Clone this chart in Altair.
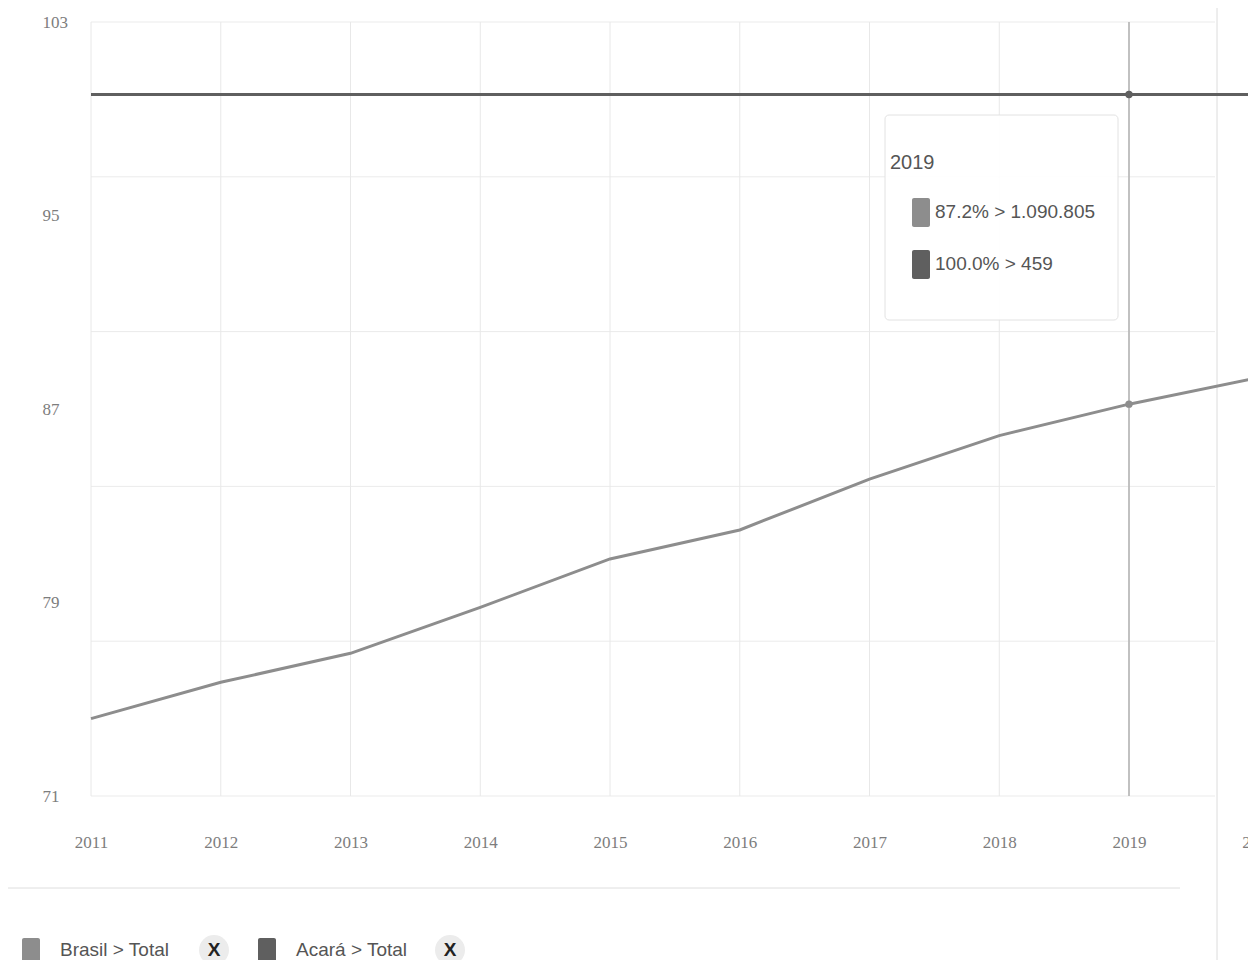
import altair as alt
import pandas as pd

# ---- data ----
years = [2011, 2012, 2013, 2014, 2015, 2016, 2017, 2018, 2019, 2020]
brasil_total = [74.2, 75.7, 76.9, 78.8, 80.8, 82.0, 84.1, 85.9, 87.2, 88.3]
acara_total = [100.0, 100.0, 100.0, 100.0, 100.0, 100.0, 100.0, 100.0, 100.0, 100.0]
series_names = ["Brasil > Total", "Acará > Total"]
series_colors = ["#8d8d8d", "#5f5f5f"]
y_ticks = [71, 79, 87, 95, 103]
grid_levels = [71, 77.4, 83.8, 90.2, 96.6, 103]
hover_year = 2019
hover_pct = [87.2, 100.0]
hover_count = ["1.090.805", "459"]

# ---- layout ----
W, H = 1240, 952
SANS = "Liberation Sans, Arial, sans-serif"
SERIF = "Liberation Serif, Times New Roman, serif"

xs = alt.Scale(domain=[years[0], years[-1]], range=[83, 83 + 129.75 * (len(years) - 1)], nice=False, zero=False)
ys = alt.Scale(domain=[y_ticks[0], y_ticks[-1]], range=[788, 14], nice=False, zero=False)

x_axis = alt.Axis(values=years, format="d", orient="bottom", offset=-126, domain=False, ticks=False,
                  tickSize=0, grid=False, labelPadding=0, labelFont=SERIF, labelFontSize=17,
                  labelColor="#7d7d7d", title=None, labelFlush=False, labelOverlap=False)
y_axis = alt.Axis(values=y_ticks, orient="left", offset=-34, domain=False, ticks=False, tickSize=0,
                  grid=False, labelPadding=0, labelAlign="left", labelFont=SERIF, labelFontSize=17,
                  labelColor="#7d7d7d", title=None, labelOverlap=False)

X = lambda f="year": alt.X(f"{f}:Q", scale=xs, axis=x_axis)
Y = lambda f="value": alt.Y(f"{f}:Q", scale=ys, axis=y_axis)

rows = []
for i, yr in enumerate(years):
    rows.append({"year": yr, "value": brasil_total[i], "series": series_names[0]})
    rows.append({"year": yr, "value": acara_total[i], "series": series_names[1]})
df = pd.DataFrame(rows)

one = pd.DataFrame({"k": [0]})
color_scale = alt.Scale(domain=series_names, range=series_colors)

hgrid = alt.Chart(pd.DataFrame({"value": grid_levels})).mark_rule(color="#ebebeb", strokeWidth=1).encode(
    x=alt.value(83), x2=alt.value(1207), y=Y())

vgrid = alt.Chart(pd.DataFrame({"year": years, "value": [y_ticks[0]] * len(years),
                                "value2": [y_ticks[-1]] * len(years)})).mark_rule(
    color="#e8e8e8", strokeWidth=1).encode(x=X(), y=Y(), y2="value2:Q")

edge = alt.Chart(one).mark_rule(color="#dcdcdc", strokeWidth=1).encode(
    x=alt.value(1209), y=alt.value(0), y2=alt.value(H))

sep = alt.Chart(one).mark_rule(color="#dedede", strokeWidth=1).encode(
    x=alt.value(0), x2=alt.value(1172), y=alt.value(880))

cross = alt.Chart(pd.DataFrame({"year": [hover_year], "value": [y_ticks[0]],
                                "value2": [y_ticks[-1]]})).mark_rule(
    color="#b0b0b0", strokeWidth=1.5).encode(x=X(), y=Y(), y2="value2:Q")

lines = alt.Chart(df).mark_line(strokeWidth=3).encode(
    x=X(), y=Y(), color=alt.Color("series:N", scale=color_scale, legend=None))

pts = alt.Chart(df[df["year"] == hover_year]).mark_point(filled=True, size=55, opacity=1).encode(
    x=X(), y=Y(), color=alt.Color("series:N", scale=color_scale, legend=None))

box = alt.Chart(one).mark_rect(fill="white", fillOpacity=0.9, stroke="#e2e2e2", strokeWidth=1,
                               cornerRadius=4).encode(
    x=alt.value(877), x2=alt.value(1110), y=alt.value(107), y2=alt.value(312))

tip_title = alt.Chart(pd.DataFrame({"t": [str(hover_year)]})).mark_text(
    align="left", baseline="middle", font=SANS, fontSize=20, color="#555555").encode(
    x=alt.value(882), y=alt.value(155), text="t:N")

tip = pd.DataFrame({
    "label": [f"{p:.1f}% > {c}" for p, c in zip(hover_pct, hover_count)],
    "color": series_colors,
    "py": [204 + 52 * i for i in range(len(hover_pct))],
})
tip["py0"] = tip["py"] - 14
tip["py1"] = tip["py"] + 15

tip_sw = alt.Chart(tip).mark_rect(cornerRadius=2).encode(
    x=alt.value(904), x2=alt.value(922),
    y=alt.Y("py0:Q", scale=None), y2="py1:Q",
    fill=alt.Fill("color:N", scale=None))

tip_txt = alt.Chart(tip).mark_text(align="left", baseline="middle", font=SANS, fontSize=19,
                                   color="#555555").encode(
    x=alt.value(927), y=alt.Y("py:Q", scale=None), text="label:N")

# ---- bottom legend (series chips with remove buttons) ----
leg = pd.DataFrame({"name": series_names, "color": series_colors})
leg["sx0"] = [14 + 236 * i for i in range(len(leg))]
leg["sx1"] = leg["sx0"] + 18
leg["tx"] = leg["sx0"] + 38
leg["bx"] = leg["sx0"] + 192
leg["ly"] = 942
leg["ly0"] = leg["ly"] - 12
leg["ly1"] = leg["ly"] + 13
leg["t"] = "X"

leg_sw = alt.Chart(leg).mark_rect(cornerRadius=2).encode(
    x=alt.X("sx0:Q", scale=None), x2="sx1:Q",
    y=alt.Y("ly0:Q", scale=None), y2="ly1:Q",
    fill=alt.Fill("color:N", scale=None))
leg_txt = alt.Chart(leg).mark_text(align="left", baseline="middle", font=SANS, fontSize=19,
                                   color="#555555").encode(
    x=alt.X("tx:Q", scale=None), y=alt.Y("ly:Q", scale=None), text="name:N")
btn_c = alt.Chart(leg).mark_circle(size=900, color="#ececec", opacity=1).encode(
    x=alt.X("bx:Q", scale=None), y=alt.Y("ly:Q", scale=None))
btn_t = alt.Chart(leg).mark_text(font=SANS, fontSize=19, fontWeight="bold",
                                 color="#222222", baseline="middle").encode(
    x=alt.X("bx:Q", scale=None), y=alt.Y("ly:Q", scale=None), text="t:N")

chart = alt.layer(hgrid, vgrid, edge, sep, cross, lines, pts, box, tip_title, tip_sw, tip_txt,
                  leg_sw, leg_txt, btn_c, btn_t).properties(
    width=W, height=H, autosize=alt.AutoSizeParams(type="none"), padding=0, background="white"
).configure_view(stroke=None)

chart.save("out.html", embed_options={"renderer": "svg", "actions": False})
